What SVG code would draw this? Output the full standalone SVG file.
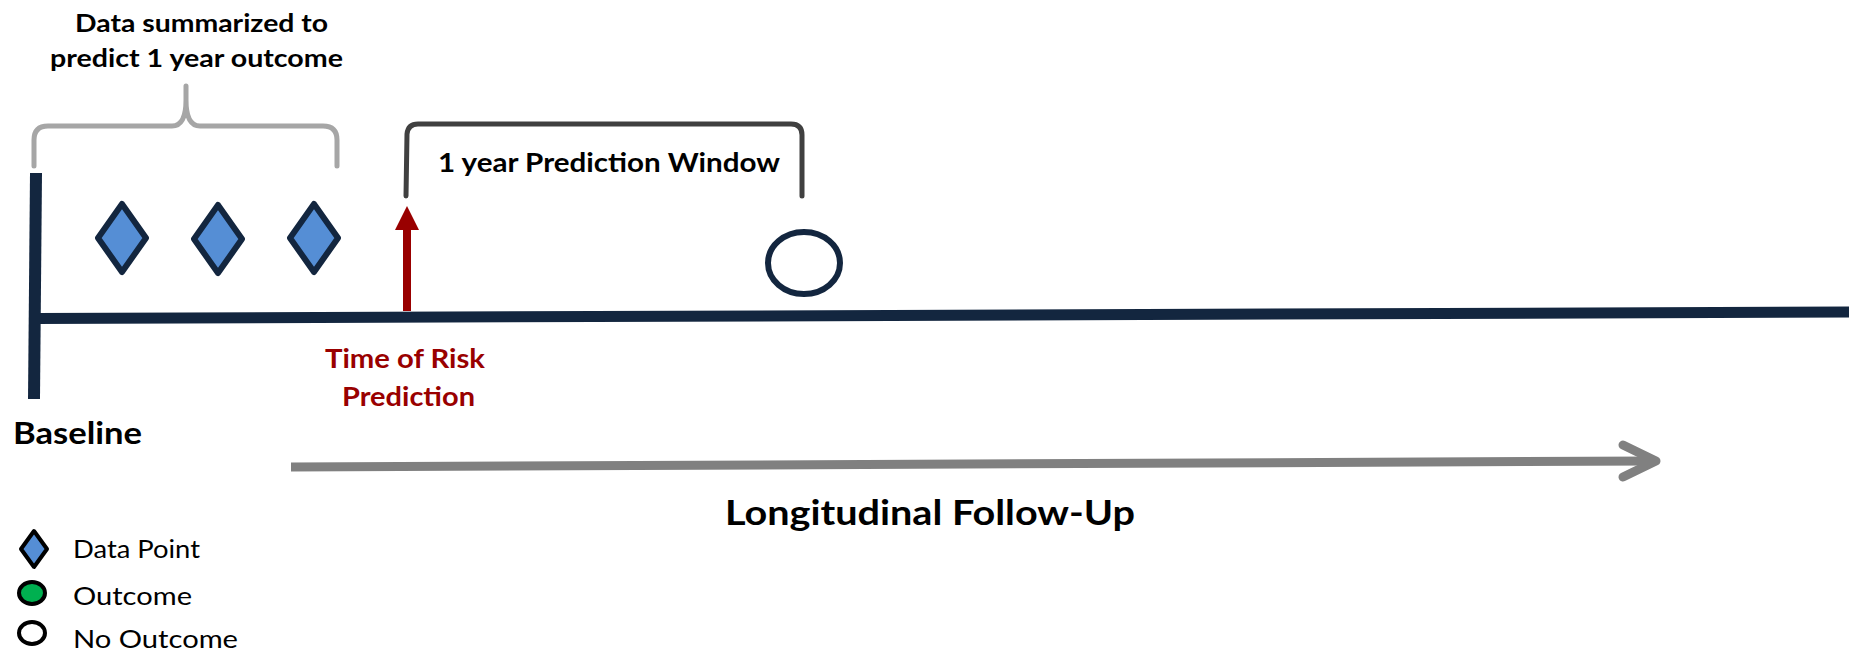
<svg xmlns="http://www.w3.org/2000/svg" width="1849" height="656" viewBox="0 0 1849 656">
  <style>
    text { font-family: Lato, "Open Sans", "Liberation Sans", sans-serif; }
    .bold { font-weight: bold; fill: #000; }
    .red { font-weight: bold; fill: #990000; }
    .legend { font-weight: normal; fill: #000; }
    .axis { stroke: #13263f; stroke-linecap: butt; fill: none; }
    .diamond { fill: #558ed5; stroke: #13263f; stroke-width: 6; stroke-linejoin: round; }
    .brace { fill: none; stroke-width: 5; stroke-linecap: round; stroke-linejoin: round; }
  </style>
  <rect width="1849" height="656" fill="#ffffff"/>

  <!-- timeline axes -->
  <g id="connectors">
    <line class="axis" x1="36" y1="173" x2="34" y2="399" stroke-width="12"/>
    <line class="axis" x1="36" y1="318.5" x2="1849" y2="312" stroke-width="11"/>
    <!-- risk prediction arrow -->
    <line x1="407" y1="311" x2="407" y2="226" stroke="#990000" stroke-width="8"/>
    <polygon points="395,230 407,206 419,230" fill="#990000"/>
    <!-- follow-up arrow -->
    <line x1="291" y1="467" x2="1654" y2="461" stroke="#808080" stroke-width="9"/>
    <polyline points="1623,445 1656,461 1623,477" fill="none" stroke="#808080" stroke-width="9" stroke-linecap="round" stroke-linejoin="round"/>
  </g>

  <!-- summarisation brace -->
  <g id="summary-brace">
    <path class="brace" stroke="#a6a6a6" d="M34,166 L34,140 Q34,126 48,126 L172,126 Q186,126 186,100 L186,86 M186,100 Q186,126 200,126 L323,126 Q337,126 337,140 L337,166"/>
    <text class="bold" x="75" y="32" font-size="24" textLength="253" lengthAdjust="spacingAndGlyphs">Data summarized to</text>
    <text class="bold" x="50" y="67" font-size="24" textLength="293" lengthAdjust="spacingAndGlyphs">predict 1 year outcome</text>
  </g>

  <!-- prediction window brace -->
  <g id="prediction-window">
    <path class="brace" stroke="#404040" d="M406,196 L407,134 Q408,124 418,124 L791,124 Q802,124 802,135 L802,196"/>
    <text class="bold" x="438" y="172" font-size="27" textLength="342" lengthAdjust="spacingAndGlyphs">1 year Prediction Window</text>
  </g>

  <!-- data points -->
  <g id="data-points">
    <polygon class="diamond" points="122,204 146,238 122,272 98,238"/>
    <polygon class="diamond" points="218,205 242,239 218,273 194,239"/>
    <polygon class="diamond" points="314,204 338,238 314,272 290,238"/>
  </g>

  <!-- observed no-outcome -->
  <g id="no-outcome">
    <ellipse cx="804" cy="263" rx="36" ry="31" fill="#ffffff" stroke="#13263f" stroke-width="6"/>
  </g>

  <g id="baseline-label">
    <text class="bold" x="13" y="444" font-size="31" textLength="129" lengthAdjust="spacingAndGlyphs">Baseline</text>
  </g>

  <g id="risk-label">
    <text class="red" x="325" y="368" font-size="27.5" textLength="160" lengthAdjust="spacingAndGlyphs">Time of Risk</text>
    <text class="red" x="342" y="406" font-size="27.5" textLength="133" lengthAdjust="spacingAndGlyphs">Prediction</text>
  </g>

  <g id="follow-up-label">
    <text class="bold" x="725" y="525" font-size="35" textLength="410" lengthAdjust="spacingAndGlyphs">Longitudinal Follow-Up</text>
  </g>

  <!-- legend -->
  <g id="legend">
    <polygon points="34,531 47,549 34,567 21,549" fill="#558ed5" stroke="#000" stroke-width="4" stroke-linejoin="round"/>
    <text class="legend" x="73" y="558" font-size="24.5" textLength="127" lengthAdjust="spacingAndGlyphs">Data Point</text>
    <ellipse cx="32" cy="593" rx="13" ry="11" fill="#00b050" stroke="#000" stroke-width="4"/>
    <text class="legend" x="73" y="605" font-size="24.5" textLength="119" lengthAdjust="spacingAndGlyphs">Outcome</text>
    <ellipse cx="32" cy="633" rx="13" ry="11" fill="#ffffff" stroke="#000" stroke-width="4"/>
    <text class="legend" x="73" y="648" font-size="24.5" textLength="165" lengthAdjust="spacingAndGlyphs">No Outcome</text>
  </g>
</svg>
